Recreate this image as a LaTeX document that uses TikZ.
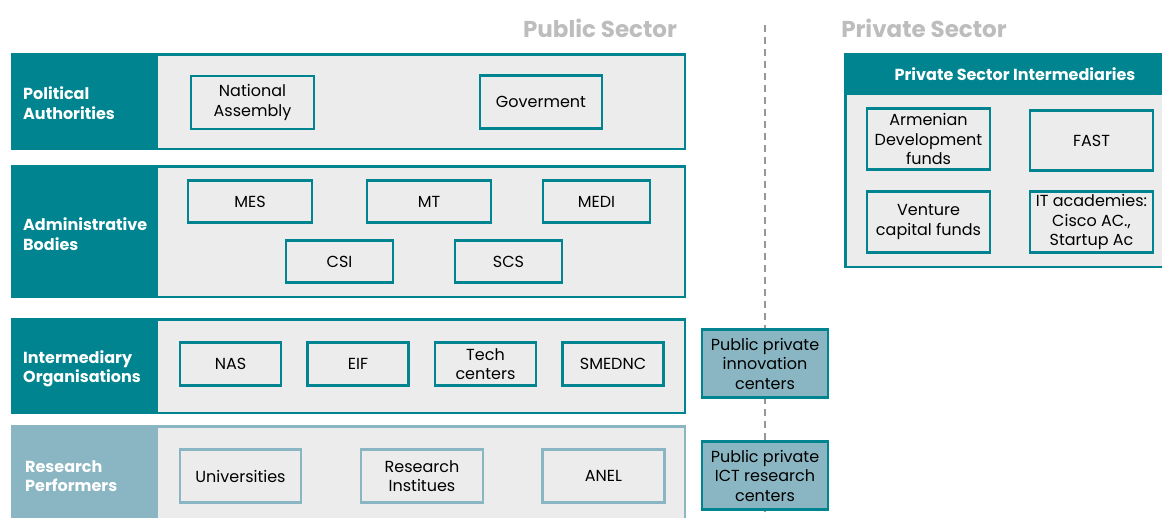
\documentclass[tikz,border=0pt]{standalone}
\usepackage{fontspec}
\setmainfont{Poppins}
\usepackage{tikz}
\usetikzlibrary{positioning}
\definecolor{tealdark}{HTML}{00848F}
\definecolor{tealpale}{HTML}{89B6C2}
\definecolor{panelgray}{HTML}{EBECEB}
\definecolor{headgray}{HTML}{BDBDBD}
\tikzstyle{band} = [rectangle, draw=tealdark, line width=2.5pt, fill=panelgray, inner sep=0pt, anchor=north west]
\tikzstyle{tag} = [rectangle, draw=tealdark, line width=2.5pt, fill=tealdark, inner sep=0pt, anchor=north west]
\tikzstyle{tagtext} = [anchor=west, align=left, text=white, font=\fontsize{16}{19.5}\selectfont\bfseries, inner sep=0pt]
\tikzstyle{unit} = [rectangle, draw=tealdark, line width=2.2pt, fill=panelgray, align=center, inner sep=0pt, font=\fontsize{16}{19.5}\selectfont]
\tikzstyle{joint} = [unit, fill=tealpale, minimum width=126pt, minimum height=68pt]
\tikzstyle{sector} = [text=headgray, font=\fontsize{23}{26}\selectfont\bfseries]

\begin{document}
\begin{tikzpicture}[x=1pt, y=-1pt]
				\useasboundingbox (0,0) rectangle (1162,517);
				\node(pubhead) [sector] at (600,28) {Public Sector};
				\node(privhead) [sector] at (924,28) {Private Sector};
				\coordinate (divtop) at (765,25);
				\coordinate (divbot) at (765,517);
				\draw[headgray!80!black, line width=2pt, dash pattern=on 7pt off 5pt] (divtop) -- (divbot);
				%----------------------------------------------------%
				\node(political) [band, minimum width=672.5pt, minimum height=94.5pt] at (11,53) {};
				\node(politicaltag) [tag, minimum width=144.5pt, minimum height=94.5pt] at (11,53) {};
				\node(politicallab) [tagtext] at (23,103) {Political\\Authorities};
				\node(assembly) [unit, minimum width=123pt, minimum height=53pt] at (252.5,102.5) {National\\Assembly};
				\node(gov) [unit, minimum width=122pt, minimum height=53pt] at (541,102) {Goverment};
				%----------------------------------------------------%
				\node(admin) [band, minimum width=672.5pt, minimum height=130.5pt] at (11,165) {};
				\node(admintag) [tag, minimum width=144.5pt, minimum height=130.5pt] at (11,165) {};
				\node(adminlab) [tagtext] at (23,234) {Administrative\\Bodies};
				\node(mes) [unit, minimum width=124pt, minimum height=42pt] at (250,201.5) {MES};
				\node(mt) [unit, minimum width=124pt, minimum height=42pt] at (429,201.5) {MT};
				\node(medi) [unit, minimum width=107pt, minimum height=42pt] at (596.5,201.5) {MEDI};
				\node(csi) [unit, minimum width=107pt, minimum height=42pt] at (339.5,261.5) {CSI};
				\node(scs) [unit, minimum width=107pt, minimum height=42pt] at (508.5,261.5) {SCS};
				%----------------------------------------------------%
				\node(inter) [band, minimum width=672.5pt, minimum height=93.5pt] at (11,318) {};
				\node(intertag) [tag, minimum width=144.5pt, minimum height=93.5pt] at (11,318) {};
				\node(interlab) [tagtext] at (23,369) {Intermediary\\Organisations};
				\begin{scope}[node distance=127.5pt]
				\node(nas) [unit, minimum width=101pt, minimum height=43pt] at (230.5,364) {NAS};
				\node(eif) [unit, minimum width=101pt, minimum height=43pt, right of=nas] {EIF};
				\node(tech) [unit, minimum width=101pt, minimum height=43pt, right of=eif] {Tech\\centers};
				\node(smednc) [unit, minimum width=101pt, minimum height=43pt, right of=tech] {SMEDNC};
				\end{scope}
				%----------------------------------------------------%
				\node(research) [band, draw=tealpale, minimum width=672.5pt, minimum height=110pt] at (11,425) {};
				\node(researchtag) [tag, draw=tealpale, fill=tealpale, minimum width=144.5pt, minimum height=110pt] at (11,425) {};
				\node(researchlab) [tagtext] at (25,476) {Research\\Performers};
				\begin{scope}[node distance=181.5pt]
				\node(univ) [unit, draw=tealpale, minimum width=121pt, minimum height=53pt] at (240.5,476) {Universities};
				\node(institutes) [unit, draw=tealpale, minimum width=122pt, minimum height=53pt, right of=univ] {Research\\Institues};
				\node(anel) [unit, draw=tealpale, minimum width=122pt, minimum height=53pt, right of=institutes] {ANEL};
				\end{scope}
				%----------------------------------------------------%
				\node(ppinno) [joint] at (765,363.5) {Public private\\innovation\\centers};
				\node(ppict) [joint] at (765,475.5) {Public private\\ICT research\\centers};
				%----------------------------------------------------%
				\node(private) [band, minimum width=340pt, minimum height=212.5pt] at (844,53) {};
				\node(privatetag) [tag, minimum width=340pt, minimum height=39.5pt] at (844,53) {};
				\node(privatelab) [text=white, font=\fontsize{16}{19}\selectfont\bfseries] at (1015,74) {Private Sector Intermediaries};
				\node(armenian) [unit, minimum width=123pt, minimum height=61pt] at (928.5,139) {Armenian\\Development\\funds};
				\node(fast) [unit, minimum width=123pt, minimum height=60pt] at (1091.5,140.5) {FAST};
				\node(venture) [unit, minimum width=123pt, minimum height=61pt] at (928.5,222) {Venture\\capital funds};
				\node(itacad) [unit, minimum width=123pt, minimum height=61pt] at (1091.5,222) {IT academies:\\Cisco AC.,\\Startup Ac};
			\end{tikzpicture}
\end{document}
